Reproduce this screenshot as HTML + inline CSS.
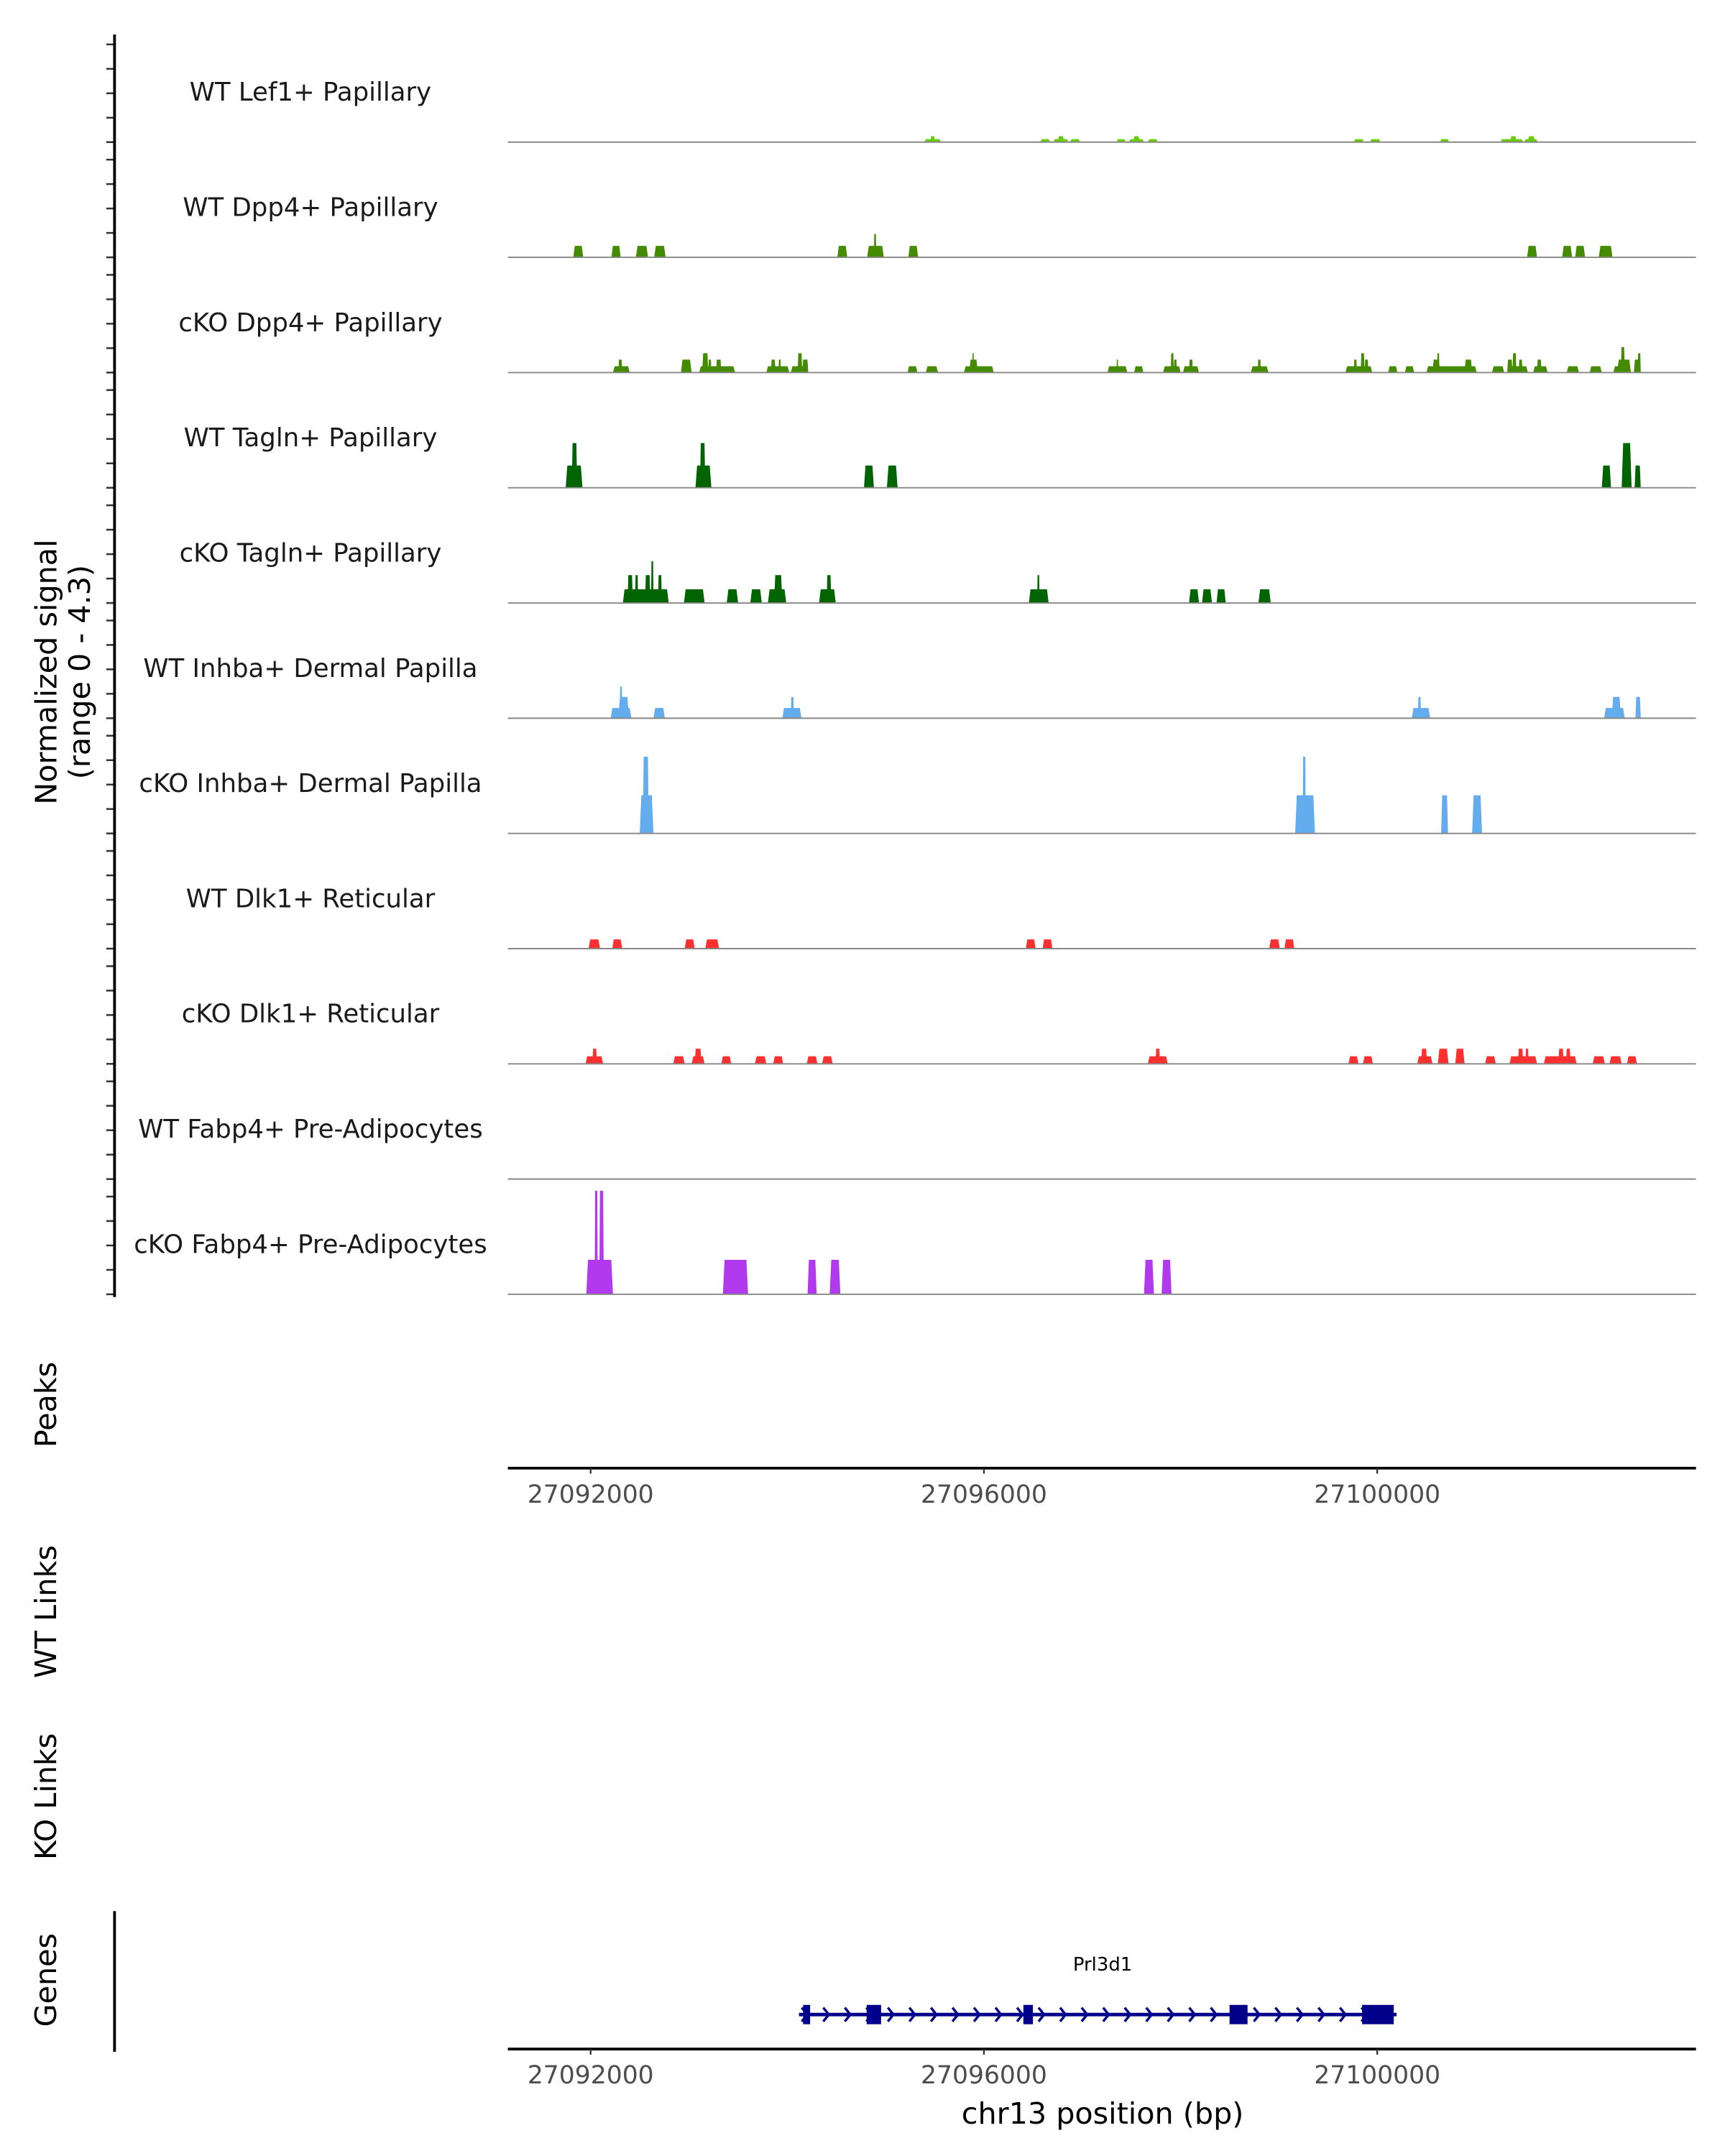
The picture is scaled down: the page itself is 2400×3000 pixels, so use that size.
<!DOCTYPE html>
<html><head><meta charset="utf-8">
<style>
html,body{margin:0;padding:0;background:#fff;}
svg{display:block;font-family:"DejaVu Sans","Liberation Sans",sans-serif;}
</style></head>
<body>
<svg id="chart" xmlns="http://www.w3.org/2000/svg" width="2400" height="3000" viewBox="0 0 1250 1562.5">
<rect x="0" y="0" width="1250" height="1562.5" fill="#fff"/>
<g id="tracks"></g>
<g id="axes"></g>
</svg>
<script>
const xTicks = [27092000, 27096000, 27100000];
const xTickLabels = ["27092000", "27096000", "27100000"];
const trackLabels = ["WT Lef1+ Papillary","WT Dpp4+ Papillary","cKO Dpp4+ Papillary","WT Tagln+ Papillary","cKO Tagln+ Papillary","WT Inhba+ Dermal Papilla","cKO Inhba+ Dermal Papilla","WT Dlk1+ Reticular","cKO Dlk1+ Reticular","WT Fabp4+ Pre-Adipocytes","cKO Fabp4+ Pre-Adipocytes"];
const trackColors = ["#66cc00","#458b00","#458b00","#006400","#006400","#63acee","#63acee","#ff3030","#ff3030","#b23aee","#b23aee"];
const yTicks = [0,1,2,3,4];
// segments: [start kb, end kb, signal]
const wtLef1 = [[27095.394,27095.564,.12],[27095.456,27095.502,.24],[27096.573,27096.674,.12],[27096.705,27096.860,.12],[27096.752,27096.814,.24],[27096.876,27096.977,.12],[27097.349,27097.442,.12],[27097.473,27097.628,.12],[27097.520,27097.582,.24],[27097.667,27097.768,.12],[27099.762,27099.863,.12],[27099.925,27100.034,.12],[27100.639,27100.732,.12],[27101.252,27101.485,.12],[27101.353,27101.415,.24],[27101.493,27101.633,.12],[27101.532,27101.602,.24]];
const wtDpp4 = [[27091.824,27091.925,.47],[27092.212,27092.305,.47],[27092.460,27092.584,.47],[27092.646,27092.763,.47],[27094.509,27094.610,.47],[27094.812,27094.982,.47],[27094.881,27094.905,.96],[27095.231,27095.331,.47],[27101.524,27101.625,.47],[27101.881,27101.982,.47],[27102.013,27102.114,.47],[27102.253,27102.393,.47]];
const ckoDpp4 = [[27092.227,27092.398,.26],[27092.282,27092.321,.53],[27092.918,27093.027,.53],[27093.104,27093.469,.26],[27093.135,27093.197,.79],[27093.197,27093.228,.53],[27093.275,27093.329,.53],[27093.787,27094.020,.26],[27093.834,27093.880,.53],[27093.911,27093.935,.53],[27094.036,27094.214,.26],[27094.105,27094.152,.79],[27094.152,27094.214,.53],[27095.223,27095.324,.26],[27095.409,27095.533,.26],[27095.797,27096.100,.26],[27095.851,27095.937,.53],[27095.882,27095.898,.79],[27097.256,27097.458,.26],[27097.349,27097.365,.53],[27097.528,27097.621,.26],[27097.822,27098.001,.26],[27097.900,27097.931,.79],[27097.931,27097.962,.53],[27098.024,27098.187,.26],[27098.086,27098.125,.53],[27098.715,27098.893,.26],[27098.785,27098.816,.53],[27099.677,27099.949,.26],[27099.762,27099.793,.53],[27099.832,27099.871,.79],[27099.871,27099.910,.53],[27100.112,27100.205,.26],[27100.282,27100.375,.26],[27100.500,27101.012,.26],[27100.562,27100.639,.53],[27100.609,27100.632,.79],[27100.888,27100.965,.53],[27101.167,27101.291,.26],[27101.322,27101.532,.26],[27101.322,27101.376,.53],[27101.376,27101.415,.79],[27101.439,27101.477,.53],[27101.586,27101.733,.26],[27101.625,27101.671,.53],[27101.927,27102.052,.26],[27102.160,27102.284,.26],[27102.401,27102.580,.26],[27102.440,27102.580,.53],[27102.478,27102.517,1.04],[27102.610,27102.680,.53],[27102.649,27102.680,.79]];
const wtTagln = [[27091.746,27091.917,.91],[27091.808,27091.863,1.83],[27093.066,27093.228,.91],[27093.112,27093.166,1.83],[27094.780,27094.881,.91],[27095.013,27095.122,.91],[27102.284,27102.378,.91],[27102.486,27102.587,1.83],[27102.618,27102.680,.91]];
const ckoTagln = [[27092.328,27092.794,.56],[27092.375,27092.429,1.14],[27092.452,27092.483,1.14],[27092.553,27092.608,1.14],[27092.615,27092.639,1.71],[27092.685,27092.724,1.14],[27092.949,27093.159,.56],[27093.384,27093.500,.56],[27093.624,27093.741,.56],[27093.803,27093.989,.56],[27093.865,27093.950,1.14],[27094.323,27094.493,.56],[27094.400,27094.447,1.14],[27096.457,27096.658,.56],[27096.542,27096.565,1.14],[27098.086,27098.187,.56],[27098.218,27098.319,.56],[27098.366,27098.459,.56],[27098.792,27098.917,.56]];
const wtInhba = [[27092.204,27092.414,.42],[27092.282,27092.390,.87],[27092.297,27092.321,1.30],[27092.639,27092.755,.42],[27093.950,27094.144,.42],[27094.036,27094.067,.87],[27100.352,27100.538,.42],[27100.414,27100.445,.87],[27102.308,27102.517,.42],[27102.385,27102.478,.87],[27102.626,27102.680,.87]];
const ckoInhba = [[27092.499,27092.639,1.56],[27092.530,27092.592,3.14],[27099.165,27099.367,1.56],[27099.242,27099.273,3.14],[27100.650,27100.720,1.56],[27100.965,27101.066,1.56]];
const wtDlk1 = [[27091.979,27092.096,.38],[27092.220,27092.321,.38],[27092.957,27093.058,.38],[27093.166,27093.306,.38],[27096.426,27096.526,.38],[27096.596,27096.697,.38],[27098.901,27099.010,.38],[27099.056,27099.157,.38]];
const ckoDlk1 = [[27091.948,27092.127,.31],[27092.018,27092.064,.62],[27092.840,27092.957,.31],[27093.027,27093.159,.31],[27093.058,27093.128,.62],[27093.329,27093.430,.31],[27093.671,27093.787,.31],[27093.857,27093.958,.31],[27094.198,27094.307,.31],[27094.354,27094.462,.31],[27097.667,27097.869,.31],[27097.745,27097.791,.62],[27099.708,27099.809,.31],[27099.855,27099.956,.31],[27100.407,27100.562,.31],[27100.446,27100.507,.62],[27100.616,27100.725,.62],[27100.794,27100.888,.62],[27101.097,27101.206,.31],[27101.345,27101.625,.31],[27101.431,27101.485,.62],[27101.508,27101.539,.62],[27101.695,27102.028,.31],[27101.842,27101.896,.62],[27101.920,27101.966,.62],[27102.191,27102.315,.31],[27102.362,27102.486,.31],[27102.540,27102.641,.31]];
const wtFabp4 = [];
const ckoFabp4 = [[27091.956,27092.227,1.41],[27092.041,27092.072,4.24],[27092.088,27092.134,4.24],[27093.345,27093.601,1.41],[27094.206,27094.299,1.41],[27094.431,27094.540,1.41],[27097.628,27097.729,1.41],[27097.807,27097.908,1.41]];
const trackData = [wtLef1,wtDpp4,ckoDpp4,wtTagln,ckoTagln,wtInhba,ckoInhba,wtDlk1,ckoDlk1,wtFabp4,ckoFabp4];
const geneName = "Prl3d1";
const geneSpan = [27094119, 27100196];
const geneExons = [[27094161,27094232],[27094807,27094954],[27096401,27096498],[27098498,27098681],[27099846,27100168]];

const NS = "http://www.w3.org/2000/svg";
const PL = 368, PR = 1229;
function xs(bp){ return 428 + (bp - 27092000) * (285/4000); }
const UNIT = 17.7;
function base(i){ return 103 + i*83.5; }
function ys(i, v){ return base(i) - v*UNIT; }
function mk(tag, attrs, parent){ const e=document.createElementNS(NS,tag); for(const k in attrs) e.setAttribute(k,attrs[k]); parent.appendChild(e); return e; }
const tracks = document.getElementById('tracks');
const axes = document.getElementById('axes');

trackData.forEach((data, i) => {
  const g = mk('g', {}, tracks);
  
  
  data.forEach(seg => {
    const x0 = xs(seg[0]*1000), x1 = xs(seg[1]*1000), y = ys(i, seg[2]);
    const w = x1 - x0, s = Math.min(1.2, w*0.15);
    const p = mk('polygon', {points: `${x0},${base(i)} ${x0+s},${y} ${x1-s},${y} ${x1},${base(i)}`, fill: trackColors[i]}, g);
    
    
  });
  const bl = mk('line', {x1: PL, x2: PR, y1: base(i), y2: base(i), stroke: '#888', 'stroke-width': 1}, g);
  
  
  const t = mk('text', {x: 225, y: base(i) - 30, 'font-size': 18.5, 'text-anchor': 'middle', fill: '#1a1a1a'}, g);
  t.textContent = trackLabels[i];
  
  
  yTicks.forEach(v => {
    const tk = mk('line', {x1: 77, x2: 83, y1: ys(i, v), y2: ys(i, v), stroke: '#333', 'stroke-width': 1.3}, g);
    
    
  });
});
const ya = mk('line', {x1: 83, x2: 83, y1: 25, y2: 940, stroke: '#000', 'stroke-width': 2}, axes);



function rotLabel(lines, cx, cy, name){
  const t = mk('text', {transform: `translate(${cx},${cy}) rotate(-90)`, 'font-size': 21.5, 'text-anchor': 'middle', fill: '#000'}, axes);
  lines.forEach((l, k) => { const ts = mk('tspan', {x: 0, dy: k===0 ? (lines.length>1 ? -4 : 7.5) : 24}, t); ts.textContent = l; });
  
  
}
rotLabel(["Normalized signal","(range 0 - 4.3)"], 45, 487, 'y-axis-title');
rotLabel(["Peaks"], 33, 1018, 'peaks-label');
rotLabel(["WT Links"], 33, 1168, 'wt-links-label');
rotLabel(["KO Links"], 33, 1302, 'ko-links-label');
rotLabel(["Genes"], 33, 1435, 'genes-label');

function xAxis(y, name){
  const l = mk('line', {x1: PL, x2: PR, y1: y, y2: y, stroke: '#000', 'stroke-width': 2}, axes);
  
  
  xTicks.forEach((b, k) => {
    const tk = mk('line', {x1: xs(b), x2: xs(b), y1: y, y2: y+4, stroke: '#333', 'stroke-width': 1.2}, axes);
    
    
    const tl = mk('text', {x: xs(b), y: y+25, 'font-size': 18, 'text-anchor': 'middle', fill: '#4d4d4d'}, axes);
    tl.textContent = xTickLabels[k];
    
    
  });
}
xAxis(1064, 'peaks-x-axis');
xAxis(1485, 'genes-x-axis');
const xt = mk('text', {x: 799, y: 1539, 'font-size': 21.5, 'text-anchor': 'middle', fill: '#000'}, axes);
xt.textContent = "chr13 position (bp)";


const ga = mk('line', {x1: 83, x2: 83, y1: 1385, y2: 1487, stroke: '#000', 'stroke-width': 2}, axes);



// gene model
const gg = mk('g', {}, axes);


const gy = 1460;
const gl = mk('line', {x1: xs(geneSpan[0]), x2: xs(geneSpan[1]), y1: gy, y2: gy, stroke: '#00008b', 'stroke-width': 2.5}, gg);


for (let x = xs(geneSpan[0]) + 2; x < xs(geneSpan[1]) - 4; x += 15.6) {
  const c = mk('polyline', {points: `${x},${gy-5} ${x+4},${gy} ${x},${gy+5}`, fill: 'none', stroke: '#00008b', 'stroke-width': 1.8}, gg);
  
  
}
geneExons.forEach(e => {
  const r = mk('rect', {x: xs(e[0]), y: gy-7, width: xs(e[1])-xs(e[0]), height: 14, fill: '#00008b'}, gg);
  
  
});
const gt = mk('text', {x: 799, y: 1428, 'font-size': 13.5, 'text-anchor': 'middle', fill: '#000'}, gg);
gt.textContent = geneName;


</script>
</body></html>
